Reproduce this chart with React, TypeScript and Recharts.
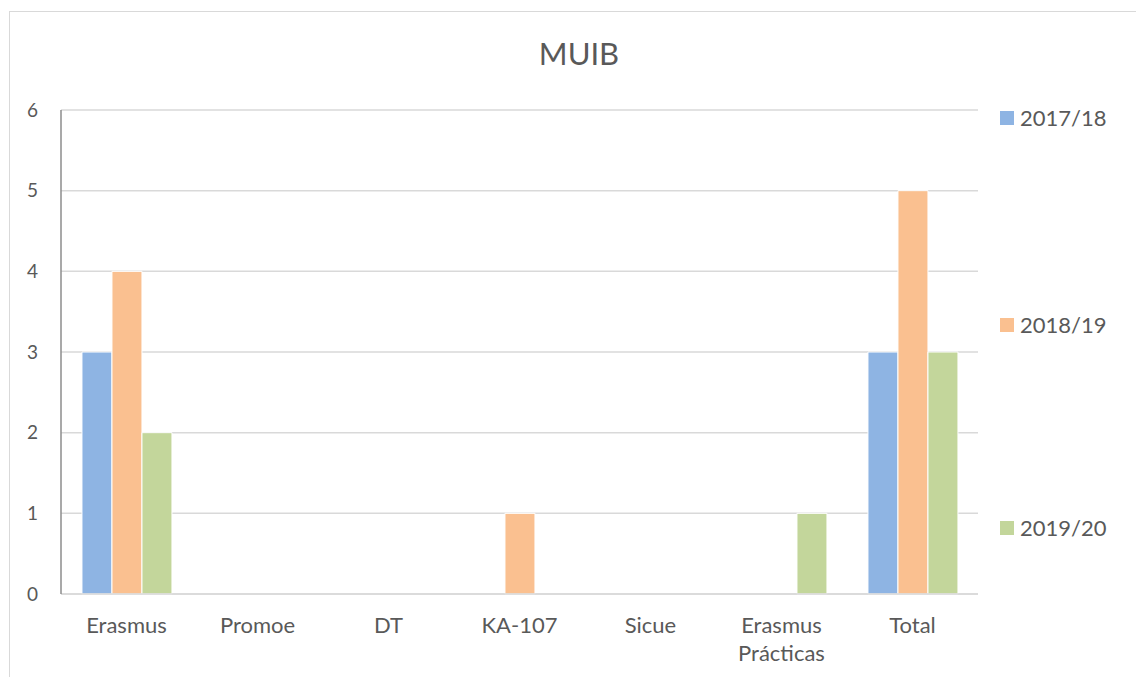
import React from "react";
import { BarChart, Bar, XAxis, YAxis, CartesianGrid, Legend } from "recharts";

const categories = ["Erasmus", "Promoe", "DT", "KA-107", "Sicue", "Erasmus Prácticas", "Total"];
const values2017 = [3, 0, 0, 0, 0, 0, 3];
const values2018 = [4, 0, 0, 1, 0, 0, 5];
const values2019 = [2, 0, 0, 0, 0, 1, 3];
const seriesNames = ["2017/18", "2018/19", "2019/20"];
const seriesColors = ["#8EB4E3", "#FAC090", "#C3D69B"];
const yTicks = [0, 1, 2, 3, 4, 5, 6];
const title = "MUIB";

const data = categories.map((c, i) => ({
  name: c,
  s2017: values2017[i],
  s2018: values2018[i],
  s2019: values2019[i],
}));

const FONT = "Lato, 'Open Sans', sans-serif";
const TEXT = "#595959";
const LEGEND_W = 144;

const XTick = (props: any) => {
  const { x, y, payload } = props;
  const v: string = payload.value;
  const lines = v.length > 10 ? v.split(" ") : [v];
  return (
    <text x={x} y={y} textAnchor="middle" fill={TEXT} fontSize={22} fontFamily={FONT}>
      {lines.map((l, i) => (
        <tspan key={i} x={x} y={y + 39 + i * 28}>
          {l}
        </tspan>
      ))}
    </text>
  );
};

const legendTops = [103, 310, 513];

const LegendContent = (props: any) => {
  const payload = props.payload || [];
  return (
    <div style={{ position: "relative", width: LEGEND_W, height: 669 }}>
      {payload.map((p: any, i: number) => (
        <div
          key={i}
          style={{
            position: "absolute",
            left: 0,
            top: legendTops[i],
            height: 14,
            display: "flex",
            alignItems: "center",
            whiteSpace: "nowrap",
          }}
        >
          <div style={{ width: 14, height: 14, background: p.color, marginRight: 6 }} />
          <span style={{ fontFamily: FONT, fontSize: 22, color: TEXT, lineHeight: "14px" }}>{p.value}</span>
        </div>
      ))}
    </div>
  );
};

export default function App() {
  return (
    <div style={{ position: "relative", width: 1136, height: 669, overflow: "hidden", background: "#fff" }}>
      <div
        style={{
          position: "absolute",
          left: 1,
          top: 3,
          width: 2000,
          height: 2000,
          border: "1px solid #d9d9d9",
          boxSizing: "border-box",
        }}
      />
      <svg
        width={1136}
        height={80}
        style={{ position: "absolute", left: 0, top: 0, pointerEvents: "none" }}
      >
        <text x={571} y={57} textAnchor="middle" fill={TEXT} fontSize={31} fontFamily={FONT}>
          {title}
        </text>
      </svg>
      <BarChart
        width={1136}
        height={669}
        data={data}
        margin={{ top: 102, right: 166 - LEGEND_W, bottom: 0, left: 0 }}
        barCategoryGap="16%"
        barGap={0}
      >
        <CartesianGrid vertical={false} stroke="#d9d9d9" strokeWidth={1.5} />
        <XAxis
          dataKey="name"
          height={83}
          tickLine={false}
          tickSize={0}
          tickMargin={0}
          axisLine={{ stroke: "#d9d9d9", strokeWidth: 1.5 }}
          tick={<XTick />}
          interval={0}
        />
        <YAxis
          width={53}
          domain={[0, 6]}
          ticks={yTicks}
          tickLine={false}
          tickSize={0}
          tickMargin={23}
          axisLine={{ stroke: "#8c8c8c", strokeWidth: 1.5 }}
          tick={{ fill: TEXT, fontSize: 19, fontFamily: FONT }}
        />
        <Legend
          layout="horizontal"
          verticalAlign="middle"
          align="right"
          content={<LegendContent />}
          wrapperStyle={{ left: 992, top: 0, width: LEGEND_W, height: 669 }}
        />
        <Bar dataKey="s2017" name={seriesNames[0]} fill={seriesColors[0]} stroke="#ffffff" strokeWidth={1} isAnimationActive={false} />
        <Bar dataKey="s2018" name={seriesNames[1]} fill={seriesColors[1]} stroke="#ffffff" strokeWidth={1} isAnimationActive={false} />
        <Bar dataKey="s2019" name={seriesNames[2]} fill={seriesColors[2]} stroke="#ffffff" strokeWidth={1} isAnimationActive={false} />
      </BarChart>
    </div>
  );
}
